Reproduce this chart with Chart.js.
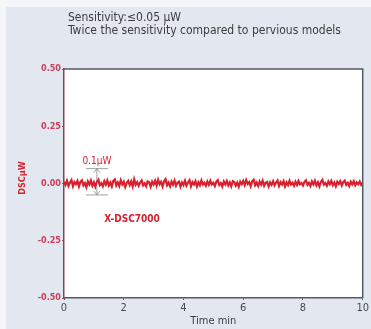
<!DOCTYPE html>
<html lang="en">
<head>
  <meta charset="UTF-8">
  <title>X-DSC7000 sensitivity</title>
  <script src="https://cdn.jsdelivr.net/npm/chart.js"></script>
  <style>
    html, body { margin: 0; padding: 0; background: #f4f6f9; }
    #chart { display: block; }
  </style>
</head>
<body>
<canvas id="chart" width="371" height="329"></canvas>
<script>
// time axis (min) and DSC signal (uW)
const times = [
  0.00,0.05,0.10,0.15,0.20,0.25,0.30,0.35,0.40,0.45,0.50,0.55,0.60,0.65,0.70,0.75,0.80,0.85,0.90,0.95,
  1.00,1.05,1.10,1.15,1.20,1.25,1.30,1.35,1.40,1.45,1.50,1.55,1.60,1.65,1.70,1.75,1.80,1.85,1.90,1.95,
  2.00,2.05,2.10,2.15,2.20,2.25,2.30,2.35,2.40,2.45,2.50,2.55,2.60,2.65,2.70,2.75,2.80,2.85,2.90,2.95,
  3.00,3.05,3.10,3.15,3.20,3.25,3.30,3.35,3.40,3.45,3.50,3.55,3.60,3.65,3.70,3.75,3.80,3.85,3.90,3.95,
  4.00,4.05,4.10,4.15,4.20,4.25,4.30,4.35,4.40,4.45,4.50,4.55,4.60,4.65,4.70,4.75,4.80,4.85,4.90,4.95,
  5.00,5.05,5.10,5.15,5.20,5.25,5.30,5.35,5.40,5.45,5.50,5.55,5.60,5.65,5.70,5.75,5.80,5.85,5.90,5.95,
  6.00,6.05,6.10,6.15,6.20,6.25,6.30,6.35,6.40,6.45,6.50,6.55,6.60,6.65,6.70,6.75,6.80,6.85,6.90,6.95,
  7.00,7.05,7.10,7.15,7.20,7.25,7.30,7.35,7.40,7.45,7.50,7.55,7.60,7.65,7.70,7.75,7.80,7.85,7.90,7.95,
  8.00,8.05,8.10,8.15,8.20,8.25,8.30,8.35,8.40,8.45,8.50,8.55,8.60,8.65,8.70,8.75,8.80,8.85,8.90,8.95,
  9.00,9.05,9.10,9.15,9.20,9.25,9.30,9.35,9.40,9.45,9.50,9.55,9.60,9.65,9.70,9.75,9.80,9.85,9.90,9.95,
  10.00
];
const dsc = [
  0.008,-0.006,0.012,-0.010,0.004,0.015,-0.012,0.006,-0.003,0.011,-0.013,0.007,0.014,-0.008,0.002,-0.016,0.009,-0.004,0.013,-0.010,
  0.005,-0.014,0.008,0.017,-0.007,0.001,-0.012,0.010,-0.005,0.013,-0.009,0.004,-0.013,0.012,0.018,-0.008,0.005,-0.011,0.014,-0.004,
  0.008,-0.015,0.003,0.012,-0.007,0.009,-0.013,0.018,-0.005,0.006,-0.010,0.004,0.013,-0.008,0.001,-0.012,0.009,0.005,-0.014,0.008,
  -0.004,0.012,-0.009,0.016,-0.003,0.007,-0.013,0.010,0.019,-0.008,0.004,-0.012,0.009,-0.005,0.013,-0.010,0.003,0.008,-0.014,0.005,
  -0.007,0.012,-0.009,0.004,0.014,-0.012,0.006,-0.004,0.010,-0.013,0.005,-0.008,0.013,-0.005,0.003,-0.010,0.009,-0.006,0.012,-0.004,
  0.003,-0.011,0.008,0.015,-0.006,0.002,-0.013,0.009,-0.004,0.011,-0.008,0.005,-0.012,0.010,0.006,-0.009,0.004,-0.014,0.008,-0.003,
  0.011,-0.007,0.015,-0.002,0.006,-0.012,0.010,0.017,-0.008,0.004,-0.011,0.009,-0.005,0.012,-0.010,0.003,0.007,-0.013,0.005,-0.006,
  0.010,-0.008,0.004,0.013,-0.011,0.006,-0.004,0.010,-0.012,0.005,-0.007,0.012,-0.005,0.003,-0.010,0.008,-0.006,0.011,-0.004,0.002,
  -0.009,0.007,0.014,-0.006,0.003,-0.011,0.009,-0.004,0.012,-0.008,0.005,-0.013,0.007,0.016,-0.005,0.002,-0.010,0.009,-0.003,0.011,
  -0.007,0.004,-0.012,0.008,-0.002,0.010,-0.009,0.006,0.013,-0.006,0.003,-0.011,0.008,-0.004,0.010,-0.008,0.005,-0.003,0.009,-0.006,
  0.003
];
const yTicks = [-0.5, -0.25, 0, 0.25, 0.5];
const xTicks = [0, 2, 4, 6, 8, 10];

const titleLines = ['Sensitivity:\u22640.05 \u03bcW', 'Twice the sensitivity compared to pervious models'];
const yTitle = 'DSC\u03bcW';
const xTitle = 'Time min';
const spanLabel = '0.1\u03bcW';
const modelLabel = 'X-DSC7000';
const spanTop = 0.065, spanBottom = -0.05; // dimension marks around the baseline

const RED = '#d9202e';
const TEXT = '#3c3c3c';
const NARROW = '"Liberation Sans Narrow", "DejaVu Sans Condensed", "Liberation Sans", sans-serif';

// background, white plot box, titles and the 0.1uW marker
const decor = {
  id: 'decor',
  beforeDraw(chart) {
    const ctx = chart.ctx, a = chart.chartArea;
    ctx.save();
    ctx.fillStyle = '#f4f6f9';
    ctx.fillRect(0, 0, chart.width, chart.height);
    ctx.fillStyle = '#e3e8f0';
    ctx.fillRect(6, 7, chart.width - 6, chart.height - 7);
    ctx.fillStyle = '#ffffff';
    ctx.fillRect(a.left, a.top, a.right - a.left, a.bottom - a.top);
    ctx.restore();
  },
  afterDraw(chart) {
    const ctx = chart.ctx, a = chart.chartArea;
    const xs = chart.scales.x, ys = chart.scales.y;
    ctx.save();
    // top and right frame
    ctx.strokeStyle = '#555a60';
    ctx.lineWidth = 1.5;
    ctx.beginPath();
    ctx.moveTo(a.left, a.top);
    ctx.lineTo(a.right, a.top);
    ctx.lineTo(a.right, a.bottom);
    ctx.stroke();

    // title
    ctx.fillStyle = TEXT;
    ctx.textBaseline = 'middle';
    ctx.textAlign = 'left';
    ctx.font = '12px ' + NARROW;
    ctx.fillText(titleLines[0], 68, 18);
    ctx.fillText(titleLines[1], 68, 31, 292);

    // axis titles
    ctx.textAlign = 'center';
    ctx.font = '11px ' + NARROW;
    ctx.fillText(xTitle, (a.left + a.right) / 2, 321);
    ctx.save();
    ctx.translate(23, 178);
    ctx.rotate(-Math.PI / 2);
    ctx.fillStyle = RED;
    ctx.font = 'bold 9px ' + NARROW;
    ctx.fillText(yTitle, 0, 0);
    ctx.restore();

    // 0.1uW dimension marker
    const mx = xs.getPixelForValue(1.1);
    const yT = ys.getPixelForValue(spanTop), yB = ys.getPixelForValue(spanBottom);
    const y0 = ys.getPixelForValue(0);
    ctx.strokeStyle = '#8a8a8a';
    ctx.lineWidth = 0.8;
    ctx.beginPath();
    ctx.moveTo(mx - 11, yT); ctx.lineTo(mx + 11, yT);
    ctx.moveTo(mx - 11, yB); ctx.lineTo(mx + 11, yB);
    ctx.moveTo(mx, yT); ctx.lineTo(mx, y0 - 3);
    ctx.moveTo(mx, yB); ctx.lineTo(mx, y0 + 3);
    ctx.moveTo(mx - 3, yT + 4); ctx.lineTo(mx, yT); ctx.lineTo(mx + 3, yT + 4);
    ctx.moveTo(mx - 3, yB - 4); ctx.lineTo(mx, yB); ctx.lineTo(mx + 3, yB - 4);
    ctx.stroke();

    ctx.fillStyle = RED;
    ctx.font = '10px ' + NARROW;
    ctx.fillText(spanLabel, mx, yT - 7);
    ctx.font = 'bold 10px ' + NARROW;
    ctx.textAlign = 'left';
    ctx.fillText(modelLabel, xs.getPixelForValue(1.35), ys.getPixelForValue(-0.155));
    ctx.restore();
  }
};

new Chart(document.getElementById('chart'), {
  type: 'line',
  data: {
    datasets: [{
      data: times.map((t, i) => ({ x: t, y: dsc[i] })),
      borderColor: RED,
      borderWidth: 2.2,
      pointRadius: 0,
      tension: 0
    }]
  },
  options: {
    responsive: false,
    animation: false,
    layout: { padding: { left: 30, top: 69, right: 7, bottom: 0 } },
    plugins: { legend: { display: false }, tooltip: { enabled: false } },
    scales: {
      x: {
        type: 'linear',
        min: 0, max: 10,
        afterFit: s => { s.height = 31; },
        afterBuildTicks: s => { s.ticks = xTicks.map(v => ({ value: v })); },
        grid: { drawOnChartArea: false, tickLength: 2, color: '#555a60' },
        border: { color: '#555a60', width: 1.5 },
        ticks: { color: '#4a4a4a', padding: 2, maxRotation: 0, font: { size: 11, family: NARROW } }
      },
      y: {
        min: -0.5, max: 0.5,
        afterFit: s => { s.width = 34; },
        afterBuildTicks: s => { s.ticks = yTicks.map(v => ({ value: v })); },
        grid: { drawOnChartArea: false, tickLength: 2, color: '#9a4a5a' },
        border: { color: '#8a4050', width: 1.5 },
        ticks: {
          color: '#c8405a', padding: 1,
          font: { size: 9, weight: 'bold', family: NARROW },
          callback: v => v.toFixed(2)
        }
      }
    }
  },
  plugins: [decor]
});
</script>
</body>
</html>
